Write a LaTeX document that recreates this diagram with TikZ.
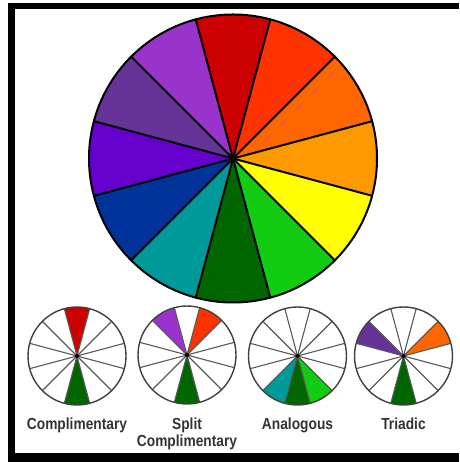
\documentclass[tikz,border=0pt]{standalone}
\usepackage{fontspec}
\newfontfamily\labelfont[FakeStretch=0.86]{Liberation Sans}
\definecolor{cred}{HTML}{CC0000}
\definecolor{credorange}{HTML}{FF3300}
\definecolor{corange}{HTML}{FF6600}
\definecolor{cyorange}{HTML}{FF9900}
\definecolor{cyellow}{HTML}{FFFF00}
\definecolor{cgreen}{HTML}{11CC11}
\definecolor{cdgreen}{HTML}{006600}
\definecolor{cteal}{HTML}{009999}
\definecolor{cblue}{HTML}{003399}
\definecolor{cviolet}{HTML}{6600CC}
\definecolor{cdpurple}{HTML}{663399}
\definecolor{cpurple}{HTML}{9933CC}
\definecolor{ctext}{HTML}{333333}
\tikzset{
  mainline/.style={black, line width=2pt, line cap=round},
  smallspoke/.style={draw=black!65, line width=1.1pt},
  smallrim/.style={draw=black!75, line width=1.4pt},
  wheellabel/.style={anchor=base, inner sep=0pt, text=ctext, font=\labelfont\bfseries\fontsize{16}{17}\selectfont}
}
\begin{document}
\begin{tikzpicture}[x=1pt,y=1pt]
\useasboundingbox (0,0) rectangle (459,462);
% frame
\fill[black] (8,0) rectangle (459,459);
\fill[white] (15,9) rectangle (459,453);
% main wheel
\begin{scope}[shift={(233,303.5)}]
  \foreach \ang/\col in {90/cred,60/credorange,30/corange,0/cyorange,-30/cyellow,-60/cgreen,-90/cdgreen,-120/cteal,-150/cblue,180/cviolet,150/cdpurple,120/cpurple}
    \fill[\col] (0,0) -- (\ang-15:144) arc[start angle=\ang-15, delta angle=30, radius=144] -- cycle;
  \foreach \a in {15,45,...,345}
    \draw[mainline] (0,0) -- (\a:144);
  \draw[mainline] (0,0) circle[radius=144];
  \fill[black] (0,0) circle[radius=2.5];
\end{scope}
% small wheels
\foreach \cx/\cy/\wedges in {
   77/106/{90/cred,-90/cdgreen},
   187/107/{120/cpurple,60/credorange,-90/cdgreen},
   297.5/106/{-120/cteal,-90/cdgreen,-60/cgreen},
   403.5/106/{150/cdpurple,30/corange,-90/cdgreen}}{
  \begin{scope}[shift={(\cx,\cy)}]
    \fill[white] (0,0) circle[radius=49];
    \foreach \ang/\col in \wedges
      \fill[\col] (0,0) -- (\ang-15:49) arc[start angle=\ang-15, delta angle=30, radius=49] -- cycle;
    \foreach \a in {15,45,...,345}
      \draw[smallspoke] (0,0) -- (\a:49);
    \draw[smallrim] (0,0) circle[radius=49];
    \fill[black] (0,0) circle[radius=2];
  \end{scope}
}
% labels
\node[wheellabel] (lcomp) at (77,32) {Complimentary};
\node[wheellabel] (lsplit) at (187,32) {Split};
\node[wheellabel] (lsplit2) at (187,15.5) {Complimentary};
\node[wheellabel] (lanalog) at (297.5,32) {Analogous};
\node[wheellabel] (ltriad) at (403.5,32) {Triadic};
\end{tikzpicture}
\end{document}
